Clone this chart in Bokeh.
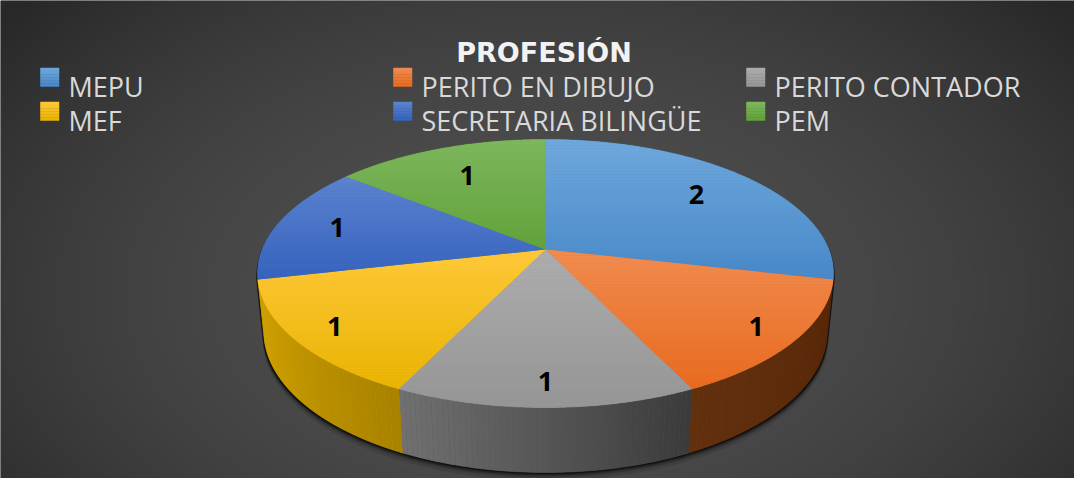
import numpy as np
from bokeh.plotting import figure
from bokeh.models import Range1d, ColumnDataSource
from bokeh.core.properties import value
from bokeh.embed import file_html
from bokeh.resources import INLINE

# ---------------- data ----------------
title_text = "PROFESIÓN"
categories = ["MEPU", "PERITO EN DIBUJO", "PERITO CONTADOR", "MEF", "SECRETARIA BILINGÜE", "PEM"]
counts = [2, 1, 1, 1, 1, 1]

# ---------------- styles ----------------
base_cols = ["#5B9BD5", "#ED7D31", "#A5A5A5", "#FFC000", "#4472C4", "#70AD47"]
top_light = ["#6FA8DC", "#F08C50", "#ADADAD", "#FFC83A", "#5C84CF", "#7EB75E"]
top_dark = ["#4787C7", "#E8691E", "#959595", "#E8B300", "#3461BD", "#60A138"]
side_left = ["#2F5F8C", "#64310F", "#717171", "#D8A700", "#26468A", "#4A7A2E"]
side_right = ["#26507A", "#552608", "#3A3A3A", "#A88200", "#1F3A75", "#3E6826"]

W, H = 1074, 478

def c2rgb(h):
    h = h.lstrip("#")
    return np.array([int(h[i:i + 2], 16) for i in (0, 2, 4)], dtype=float)

def lerp_col(a, b, t):
    v = c2rgb(a) * (1 - t) + c2rgb(b) * t
    return "#%02x%02x%02x" % tuple(int(round(x)) for x in v)

def px(xp):  # page x -> data x
    return xp - 8

def py(yp):  # page y -> data y
    return H + 8 - yp

# ---------------- 3D projection ----------------
CX, CY = px(553), py(257)
F = 1408.0
D = 4.97
S = 0.458
C = np.sqrt(1 - S * S)
HGT = 0.2307

def proj(X, Y, Z):
    depth = D + Y * C - Z * S
    return CX + F * X / depth, CY + F * (Y * S + Z * C) / depth

total = float(sum(counts))
cum = np.concatenate([[0], np.cumsum(counts)])
th_start = 90 - cum[:-1] / total * 360.0
th_end = 90 - cum[1:] / total * 360.0

p = figure(width=W, height=H, x_range=Range1d(0, W), y_range=Range1d(0, H),
           output_backend="svg", toolbar_location=None, min_border=0,
           x_axis_type=None, y_axis_type=None)
p.grid.visible = False
p.outline_line_color = None
p.background_fill_color = "#3a3a3a"
p.border_fill_color = "#3a3a3a"

# ---------------- background radial gradient ----------------
nx, ny = 537, 239
xs_img = (np.arange(nx) + 0.5) * W / nx + 8
ys_img = H + 8 - (np.arange(ny) + 0.5) * H / ny
XX, YY = np.meshgrid(xs_img, ys_img)
dd = ((XX - 548) / 700.0) ** 2 + ((YY - 300) / 430.0) ** 2
dd = np.clip(dd, 0, 1)
g = 79 - 39 * dd
img = np.empty((ny, nx), dtype=np.uint32)
view = img.view(dtype=np.uint8).reshape((ny, nx, 4))
view[..., 0] = g.astype(np.uint8)
view[..., 1] = g.astype(np.uint8)
view[..., 2] = g.astype(np.uint8)
view[..., 3] = 255
p.image_rgba(image=[img], x=0, y=0, dw=W, dh=H)

# ---------------- shadow ----------------
phi_all = np.radians(np.linspace(0, 360, 361))
pts = []
for z in (0.0, -HGT):
    sx, sy = proj(np.cos(phi_all), np.sin(phi_all), z)
    pts += list(zip(sx, sy))
pts = sorted(set(pts))

def cross(o, a, b):
    return (a[0] - o[0]) * (b[1] - o[1]) - (a[1] - o[1]) * (b[0] - o[0])

lower, upper = [], []
for pt in pts:
    while len(lower) >= 2 and cross(lower[-2], lower[-1], pt) <= 0:
        lower.pop()
    lower.append(pt)
for pt in reversed(pts):
    while len(upper) >= 2 and cross(upper[-2], upper[-1], pt) <= 0:
        upper.pop()
    upper.append(pt)
hull = lower[:-1] + upper[:-1]
hx = np.array([q[0] for q in hull])
hy = np.array([q[1] for q in hull])
for off, a in ((8, 0.10), (5, 0.18), (3, 0.35), (1.5, 0.5)):
    p.patch(CX + (hx - CX) * 1.004, hy - off, fill_color="black", fill_alpha=a, line_color=None)

# ---------------- sides ----------------
phi_lim = np.degrees(np.arcsin(-1.0 / (D * C)))  # about -13 deg
vis_lo, vis_hi = -180 - phi_lim, phi_lim
side_xs, side_ys, side_cols = [], [], []
sb_xs, sb_ys, sb_cols = [], [], []
for i in range(len(counts)):
    lo = max(th_end[i], vis_lo)
    hi = min(th_start[i], vis_hi)
    if lo >= hi:
        continue
    # solid base of the whole visible side (hides seams between strips)
    arc = np.radians(np.linspace(lo, hi, 80))
    tx, ty = proj(np.cos(arc), np.sin(arc), 0.0)
    bx, by = proj(np.cos(arc), np.sin(arc), -HGT)
    sb_xs.append(list(tx) + list(bx[::-1]))
    sb_ys.append(list(ty) + list(by[::-1]))
    sb_cols.append(lerp_col(side_left[i], side_right[i], 0.5))
    m = max(2, int((hi - lo) / 1.0))
    edges = np.linspace(lo, hi, m + 1)
    for j in range(m):
        a0, a1 = np.radians(edges[j]), np.radians(edges[j + 1])
        x0t, y0t = proj(np.cos(a0), np.sin(a0), 0.0)
        x1t, y1t = proj(np.cos(a1), np.sin(a1), 0.0)
        x1b, y1b = proj(np.cos(a1), np.sin(a1), -HGT)
        x0b, y0b = proj(np.cos(a0), np.sin(a0), -HGT)
        side_xs.append([x0t, x1t, x1b, x0b])
        side_ys.append([y0t, y1t, y1b, y0b])
        side_cols.append(lerp_col(side_left[i], side_right[i], (j + 0.5) / m))
p.patches(xs="xs", ys="ys", fill_color="c", line_color="c", line_width=0.5,
          source=ColumnDataSource(dict(xs=sb_xs, ys=sb_ys, c=sb_cols)))
p.patches(xs="xs", ys="ys", fill_color="c", line_color=None,
          source=ColumnDataSource(dict(xs=side_xs, ys=side_ys, c=side_cols)))

# ---------------- top faces (solid wedge + vertical gradient bands) ----------------
def clip_half(poly, y0, above):
    out = []
    n = len(poly)
    for k in range(n):
        P = poly[k]
        Q = poly[(k + 1) % n]
        inP = P[1] >= y0 if above else P[1] <= y0
        inQ = Q[1] >= y0 if above else Q[1] <= y0
        if inP:
            out.append(P)
        if inP != inQ:
            t = (y0 - P[1]) / (Q[1] - P[1])
            out.append((P[0] + t * (Q[0] - P[0]), y0))
    return out

w_xs, w_ys, w_cols = [], [], []
top_xs, top_ys, top_cols = [], [], []
for i in range(len(counts)):
    phis = np.radians(np.linspace(th_start[i], th_end[i], 120))
    ax, ay = proj(np.cos(phis), np.sin(phis), 0.0)
    poly = [(CX, CY)] + list(zip(ax, ay))
    w_xs.append([q[0] for q in poly])
    w_ys.append([q[1] for q in poly])
    w_cols.append(lerp_col(top_dark[i], top_light[i], 0.5))
    ymin = min(q[1] for q in poly)
    ymax = max(q[1] for q in poly)
    nb = 48
    for b in range(nb):
        ylo = ymin + (ymax - ymin) * b / nb
        yhi = ymin + (ymax - ymin) * (b + 1) / nb
        part = clip_half(clip_half(poly, ylo, True), yhi, False)
        if len(part) < 3:
            continue
        top_xs.append([q[0] for q in part])
        top_ys.append([q[1] for q in part])
        top_cols.append(lerp_col(top_dark[i], top_light[i], (b + 0.5) / nb))
p.patches(xs="xs", ys="ys", fill_color="c", line_color="c", line_width=0.5,
          source=ColumnDataSource(dict(xs=w_xs, ys=w_ys, c=w_cols)))
p.patches(xs="xs", ys="ys", fill_color="c", line_color=None,
          source=ColumnDataSource(dict(xs=top_xs, ys=top_ys, c=top_cols)))

# ---------------- data labels ----------------
mid = np.radians((th_start + th_end) / 2)
lr = np.minimum(0.80 - 0.10 * np.sin(mid), 0.86)
lx, ly = proj(lr * np.cos(mid), lr * np.sin(mid), 0.0)
p.text(x=list(lx), y=list(ly), text=[str(v) for v in counts],
       text_font=value("Open Sans"), text_font_style="bold", text_font_size="27px",
       text_color="black", text_align="center", text_baseline="middle")

# ---------------- title ----------------
p.text(x=[px(551.5)], y=[py(60)], text=[title_text],
       text_font=value("DejaVu Sans"), text_font_style="bold", text_font_size="27px",
       text_color="#F2F2F2", text_align="center", text_baseline="alphabetic")

# ---------------- legend ----------------
col_x0, col_step, row_y0, row_step, sq = 48, 353, 75.5, 34, 18.5
lq_l, lq_r, lq_t, lq_b, lq_c = [], [], [], [], []
lt_x, lt_y = [], []
for i, cat in enumerate(categories):
    col, row = i % 3, i // 3
    xl = col_x0 + col * col_step
    yt = row_y0 + row * row_step
    nb = 6
    for b in range(nb):
        lq_l.append(px(xl))
        lq_r.append(px(xl + sq))
        lq_t.append(py(yt + sq * b / nb))
        lq_b.append(py(yt + sq * (b + 1) / nb))
        lq_c.append(lerp_col(top_light[i], top_dark[i], (b + 0.5) / nb))
    lt_x.append(px(xl + 28))
    lt_y.append(py(yt + 18.2))
p.quad(left="l", right="r", top="t", bottom="b", fill_color="c", line_color="c", line_width=0.5,
       source=ColumnDataSource(dict(l=lq_l, r=lq_r, t=lq_t, b=lq_b, c=lq_c)))
p.text(x=lt_x, y=lt_y, text=categories,
       text_font=value("Open Sans"), text_font_size="27px",
       text_color="#D9D9D9", text_align="left", text_baseline="alphabetic")

open("out.html", "w").write(file_html(p, INLINE))
